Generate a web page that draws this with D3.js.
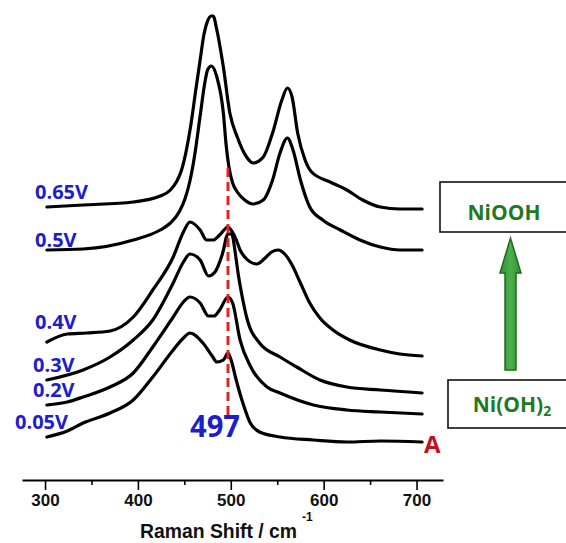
<!DOCTYPE html>
<html>
<head>
<meta charset="utf-8">
<script src="https://cdn.jsdelivr.net/npm/d3@7"></script>
<style>
  html, body { margin: 0; padding: 0; background: #fff; }
  svg { display: block; }
</style>
</head>
<body>
<svg id="chart" width="566" height="543"></svg>
<script>
// ---------------- DATA ----------------
const potentials = ["0.65V", "0.5V", "0.4V", "0.3V", "0.2V", "0.05V"];

// Raman shift (cm-1), intensity (a.u., offset-stacked)
const s065 = [[302,27.3],[341,27.5],[395,27.8],[424,28.4],[435,29.0],[442,29.9],[447,31.0],[452,32.9],[457,35.5],[462,38.8],[467,42.0],[471,44.5],[475,45.9],[479,46.4],[481,46.4],[485,45.0],[492,41.3],[499,36.7],[507,34.3],[517,32.3],[524,31.7],[535,32.3],[545,34.7],[555,38.0],[561,39.2],[566,38.3],[572,34.7],[580,32.0],[587,30.8],[607,29.8],[625,29.0],[642,28.0],[661,27.3],[682,27.1],[706,27.1]];
const s05  = [[302,23.0],[341,23.1],[395,24.0],[424,25.0],[435,25.7],[445,26.9],[451,28.2],[456,29.9],[461,32.4],[467,36.4],[472,39.7],[475,41.0],[479,41.4],[485,40.3],[492,36.7],[495,33.5],[498,31.3],[502,29.7],[507,28.8],[515,28.0],[524,27.6],[535,28.0],[545,30.0],[553,32.7],[561,34.2],[567,33.0],[575,30.0],[585,27.3],[599,26.0],[618,25.0],[639,24.0],[661,23.3],[682,23.0],[706,23.0]];
const s04  = [[302,13.8],[324,14.6],[345,14.7],[370,14.9],[395,16.3],[416,19.0],[438,22.3],[449,24.8],[456,25.8],[467,25.0],[474,24.0],[481,24.0],[488,24.5],[497,25.3],[501,24.9],[506,24.0],[510,23.0],[516,22.2],[521,21.8],[528,21.6],[537,22.2],[544,22.8],[551,23.0],[558,22.6],[566,21.5],[575,19.7],[585,17.7],[596,16.2],[610,15.0],[628,14.0],[661,13.0],[682,12.6],[706,12.4]];
const s03  = [[302,10.0],[341,11.0],[370,12.3],[395,14.0],[416,16.0],[438,19.7],[449,21.8],[456,22.6],[467,22.0],[476,20.4],[483,20.8],[491,22.6],[497,24.6],[501,24.6],[505,22.6],[508,20.6],[513,18.0],[517,16.3],[531,13.7],[553,12.3],[571,11.3],[596,10.0],[625,9.3],[661,9.0],[706,8.7]];
const s02  = [[302,7.5],[324,7.8],[341,8.3],[370,9.3],[395,10.7],[416,13.3],[438,16.3],[449,17.8],[456,18.3],[467,17.7],[476,16.4],[482,16.4],[488,17.0],[497,18.3],[502,17.7],[510,14.0],[521,11.4],[539,9.3],[553,8.7],[589,7.5],[625,7.0],[661,6.8],[706,6.6]];
const s005 = [[302,4.3],[324,4.9],[341,5.7],[370,6.7],[395,8.0],[416,10.3],[438,13.0],[449,14.2],[456,14.7],[470,13.7],[480,12.4],[485,11.8],[492,12.0],[497,12.7],[501,11.8],[505,10.3],[513,7.7],[521,5.7],[531,4.8],[553,4.3],[589,4.0],[625,3.8],[661,3.9],[706,3.8]];
const spectra = [s065, s05, s04, s03, s02, s005];

const majorTicks = [300, 400, 500, 600, 700];
const minorTicks = [350, 450, 550, 650];
const peakLabel = "497";
const peakPosition = 497;
const peakMarkerRange = [6.5, 31.2];   // intensity span of the dashed marker
const panelLetter = "A";
const phaseTop = "NiOOH";
const phaseBottom = ["Ni(OH)", "2"];
const xTitle = ["Raman Shift / cm", "-1"];

// ---------------- LAYOUT ----------------
const svg = d3.select("#chart");
const x = d3.scaleLinear().domain([275.2, 728.5]).range([22, 443]);
const y = d3.scaleLinear().domain([0, 48]).range([480, 0]);

const BLUE = "#1d1dcc";
const GREEN = "#1f7a1f";

// axis
const axisG = svg.append("g").attr("transform", "translate(0,480)");
axisG.call(d3.axisBottom(x).tickValues(majorTicks).tickSize(10).tickSizeOuter(0).tickFormat(d3.format("d")));
axisG.select(".domain").attr("stroke", "#000").attr("stroke-width", 2);
axisG.selectAll(".tick line").attr("stroke", "#000").attr("stroke-width", 1.6);
axisG.selectAll(".tick text")
  .attr("y", 14).attr("dy", "0.71em")
  .attr("font-family", "Liberation Sans, Arial, sans-serif")
  .attr("font-weight", "bold").attr("font-size", 17).attr("fill", "#111");
const minorG = svg.append("g").attr("transform", "translate(0,480)");
minorG.call(d3.axisBottom(x).tickValues(minorTicks).tickSize(5).tickFormat(""));
minorG.select(".domain").remove();
minorG.selectAll(".tick line").attr("stroke", "#000").attr("stroke-width", 1.6);

// axis title
const title = svg.append("text")
  .attr("x", 140).attr("y", 538)
  .attr("font-family", "Liberation Sans, Arial, sans-serif")
  .attr("font-weight", "bold").attr("font-size", 20).attr("fill", "#111");
title.append("tspan").text(xTitle[0]).attr("textLength", 157).attr("lengthAdjust", "spacingAndGlyphs");
svg.append("text").attr("x", 302).attr("y", 521)
  .attr("font-family", "Liberation Sans, Arial, sans-serif")
  .attr("font-weight", "bold").attr("font-size", 12).attr("fill", "#111")
  .text(xTitle[1]);

// spectra
const line = d3.line().x(d => x(d[0])).y(d => y(d[1])).curve(d3.curveMonotoneX);
svg.append("g").selectAll("path").data(spectra).join("path")
  .attr("d", line)
  .attr("fill", "none").attr("stroke", "#000")
  .attr("stroke-width", 3.2).attr("stroke-linejoin", "round").attr("stroke-linecap", "round");

// red dashed marker
svg.append("line")
  .attr("x1", x(peakPosition)).attr("x2", x(peakPosition))
  .attr("y1", y(peakMarkerRange[1])).attr("y2", y(peakMarkerRange[0]))
  .attr("stroke", "#e3222d").attr("stroke-width", 3)
  .attr("stroke-dasharray", "9,5");

// potential labels
const labelPos = [[35, 199], [35, 247], [35, 329], [33, 372], [33, 397], [15, 429]];
svg.append("g").selectAll("text").data(potentials).join("text")
  .attr("x", (d, i) => labelPos[i][0]).attr("y", (d, i) => labelPos[i][1])
  .attr("font-family", "Open Sans, sans-serif").attr("font-weight", "bold")
  .attr("font-size", 20).attr("fill", BLUE)
  .text(d => d);

// 497 label
svg.append("text").attr("x", 190).attr("y", 437)
  .attr("font-family", "Open Sans, sans-serif").attr("font-weight", "bold")
  .attr("font-size", 31).attr("fill", BLUE)
  .attr("textLength", 50).attr("lengthAdjust", "spacingAndGlyphs")
  .text(peakLabel);

// panel letter
svg.append("text").attr("x", 424).attr("y", 453)
  .attr("font-family", "Open Sans, sans-serif").attr("font-weight", "bold")
  .attr("font-size", 24).attr("fill", "#c0141c")
  .text(panelLetter);

// boxes
svg.append("rect").attr("x", 440).attr("y", 182).attr("width", 140).attr("height", 50)
  .attr("fill", "#fff").attr("stroke", "#111").attr("stroke-width", 1.6);
svg.append("text").attr("x", 504).attr("y", 220).attr("text-anchor", "middle")
  .attr("font-family", "Open Sans, sans-serif").attr("font-weight", "bold")
  .attr("font-size", 21).attr("fill", GREEN).text(phaseTop);

svg.append("rect").attr("x", 448).attr("y", 380).attr("width", 140).attr("height", 48)
  .attr("fill", "#fff").attr("stroke", "#111").attr("stroke-width", 1.6);
const bt = svg.append("text").attr("x", 512).attr("y", 412).attr("text-anchor", "middle")
  .attr("font-family", "Open Sans, sans-serif").attr("font-weight", "bold")
  .attr("font-size", 21).attr("fill", GREEN);
bt.append("tspan").text(phaseBottom[0]);
bt.append("tspan").attr("font-size", 14).attr("dy", 4).text(phaseBottom[1]);

// green arrow
const arrowPts = [[505,370],[516,370],[516,273],[521,273],[510.5,238],[500,273],[505,273]];
const defs = svg.append("defs");
const grad = defs.append("linearGradient").attr("id", "ag").attr("x1", 0).attr("x2", 1).attr("y1", 0).attr("y2", 0);
grad.append("stop").attr("offset", "0%").attr("stop-color", "#2f8f2f");
grad.append("stop").attr("offset", "50%").attr("stop-color", "#4caf4c");
grad.append("stop").attr("offset", "100%").attr("stop-color", "#2f8f2f");
svg.append("polygon").attr("points", arrowPts.map(p => p.join(",")).join(" "))
  .attr("fill", "url(#ag)").attr("stroke", "#1e6e1e").attr("stroke-width", 1.5)
  .attr("stroke-linejoin", "miter");
</script>
</body>
</html>
